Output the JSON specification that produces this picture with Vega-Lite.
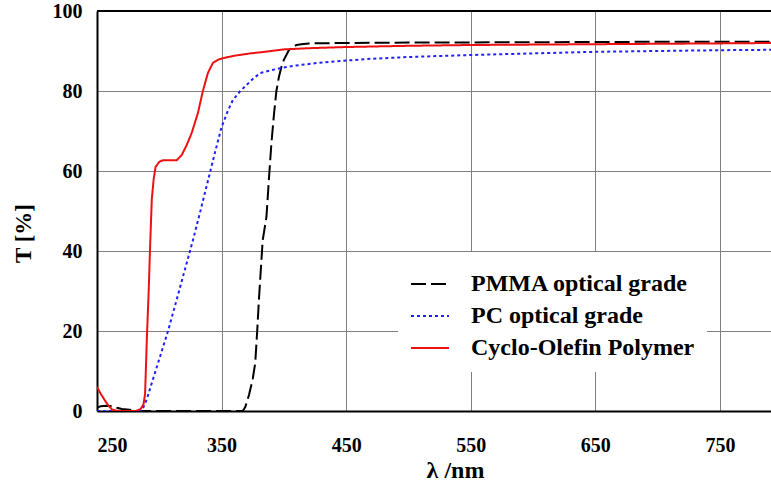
{
  "$schema": "https://vega.github.io/schema/vega-lite/v6.json",
  "autosize": {"type": "none"},
  "padding": {"left": 97, "top": 11, "right": 0, "bottom": 76},
  "width": 674,
  "height": 400,
  "background": "white",
  "config": {
    "view": {"stroke": null},
    "font": "Liberation Serif"
  },
  "data": {
    "values": [
      {"m": "PMMA optical grade", "x": 250, "t": 0.8},
      {"m": "PMMA optical grade", "x": 253, "t": 1.2},
      {"m": "PMMA optical grade", "x": 258, "t": 1.3},
      {"m": "PMMA optical grade", "x": 262, "t": 1.2},
      {"m": "PMMA optical grade", "x": 266, "t": 0.8},
      {"m": "PMMA optical grade", "x": 270, "t": 0.5},
      {"m": "PMMA optical grade", "x": 276, "t": 0.3},
      {"m": "PMMA optical grade", "x": 282, "t": 0},
      {"m": "PMMA optical grade", "x": 300, "t": 0},
      {"m": "PMMA optical grade", "x": 340, "t": 0},
      {"m": "PMMA optical grade", "x": 367, "t": 0},
      {"m": "PMMA optical grade", "x": 369, "t": 1},
      {"m": "PMMA optical grade", "x": 372, "t": 4},
      {"m": "PMMA optical grade", "x": 375, "t": 8},
      {"m": "PMMA optical grade", "x": 377, "t": 12},
      {"m": "PMMA optical grade", "x": 378.5, "t": 19.5},
      {"m": "PMMA optical grade", "x": 380, "t": 28},
      {"m": "PMMA optical grade", "x": 383, "t": 42.7},
      {"m": "PMMA optical grade", "x": 386, "t": 48.5},
      {"m": "PMMA optical grade", "x": 388, "t": 58},
      {"m": "PMMA optical grade", "x": 390, "t": 67},
      {"m": "PMMA optical grade", "x": 392, "t": 74},
      {"m": "PMMA optical grade", "x": 394, "t": 80},
      {"m": "PMMA optical grade", "x": 396, "t": 83.5},
      {"m": "PMMA optical grade", "x": 398, "t": 86},
      {"m": "PMMA optical grade", "x": 400, "t": 87.8},
      {"m": "PMMA optical grade", "x": 402, "t": 89},
      {"m": "PMMA optical grade", "x": 404, "t": 90.2},
      {"m": "PMMA optical grade", "x": 407, "t": 91},
      {"m": "PMMA optical grade", "x": 410, "t": 91.5},
      {"m": "PMMA optical grade", "x": 414, "t": 91.7},
      {"m": "PMMA optical grade", "x": 420, "t": 91.9},
      {"m": "PMMA optical grade", "x": 450, "t": 92},
      {"m": "PMMA optical grade", "x": 500, "t": 92.1},
      {"m": "PMMA optical grade", "x": 600, "t": 92.2},
      {"m": "PMMA optical grade", "x": 700, "t": 92.3},
      {"m": "PMMA optical grade", "x": 791, "t": 92.3},

      {"m": "PC optical grade", "x": 250, "t": 0},
      {"m": "PC optical grade", "x": 270, "t": 0},
      {"m": "PC optical grade", "x": 286, "t": 0},
      {"m": "PC optical grade", "x": 290, "t": 3},
      {"m": "PC optical grade", "x": 295, "t": 8},
      {"m": "PC optical grade", "x": 300, "t": 13},
      {"m": "PC optical grade", "x": 307, "t": 20},
      {"m": "PC optical grade", "x": 315, "t": 29},
      {"m": "PC optical grade", "x": 322, "t": 37},
      {"m": "PC optical grade", "x": 327, "t": 42.7},
      {"m": "PC optical grade", "x": 333, "t": 50},
      {"m": "PC optical grade", "x": 337, "t": 55},
      {"m": "PC optical grade", "x": 341, "t": 60},
      {"m": "PC optical grade", "x": 345, "t": 65},
      {"m": "PC optical grade", "x": 350, "t": 71},
      {"m": "PC optical grade", "x": 355, "t": 75},
      {"m": "PC optical grade", "x": 359, "t": 77.7},
      {"m": "PC optical grade", "x": 365, "t": 80},
      {"m": "PC optical grade", "x": 370, "t": 81.5},
      {"m": "PC optical grade", "x": 375, "t": 83},
      {"m": "PC optical grade", "x": 381, "t": 84.5},
      {"m": "PC optical grade", "x": 390, "t": 85.2},
      {"m": "PC optical grade", "x": 397, "t": 85.7},
      {"m": "PC optical grade", "x": 410, "t": 86.4},
      {"m": "PC optical grade", "x": 427, "t": 87},
      {"m": "PC optical grade", "x": 450, "t": 87.6},
      {"m": "PC optical grade", "x": 467, "t": 88},
      {"m": "PC optical grade", "x": 500, "t": 88.5},
      {"m": "PC optical grade", "x": 550, "t": 89},
      {"m": "PC optical grade", "x": 600, "t": 89.4},
      {"m": "PC optical grade", "x": 650, "t": 89.8},
      {"m": "PC optical grade", "x": 700, "t": 90},
      {"m": "PC optical grade", "x": 750, "t": 90.2},
      {"m": "PC optical grade", "x": 791, "t": 90.3},

      {"m": "Cyclo-Olefin Polymer", "x": 250, "t": 6},
      {"m": "Cyclo-Olefin Polymer", "x": 253, "t": 4.3},
      {"m": "Cyclo-Olefin Polymer", "x": 256, "t": 2.8},
      {"m": "Cyclo-Olefin Polymer", "x": 259, "t": 1.4},
      {"m": "Cyclo-Olefin Polymer", "x": 262, "t": 0.4},
      {"m": "Cyclo-Olefin Polymer", "x": 265, "t": 0.1},
      {"m": "Cyclo-Olefin Polymer", "x": 270, "t": 0},
      {"m": "Cyclo-Olefin Polymer", "x": 281, "t": 0},
      {"m": "Cyclo-Olefin Polymer", "x": 285, "t": 0.5},
      {"m": "Cyclo-Olefin Polymer", "x": 287.3, "t": 1.6},
      {"m": "Cyclo-Olefin Polymer", "x": 288.6, "t": 4.3},
      {"m": "Cyclo-Olefin Polymer", "x": 290, "t": 18},
      {"m": "Cyclo-Olefin Polymer", "x": 291.5, "t": 30},
      {"m": "Cyclo-Olefin Polymer", "x": 292.5, "t": 40},
      {"m": "Cyclo-Olefin Polymer", "x": 294, "t": 53},
      {"m": "Cyclo-Olefin Polymer", "x": 295.5, "t": 58},
      {"m": "Cyclo-Olefin Polymer", "x": 297, "t": 61},
      {"m": "Cyclo-Olefin Polymer", "x": 300, "t": 62.3},
      {"m": "Cyclo-Olefin Polymer", "x": 303, "t": 62.7},
      {"m": "Cyclo-Olefin Polymer", "x": 314, "t": 62.7},
      {"m": "Cyclo-Olefin Polymer", "x": 318, "t": 64},
      {"m": "Cyclo-Olefin Polymer", "x": 322, "t": 66.5},
      {"m": "Cyclo-Olefin Polymer", "x": 326, "t": 69.5},
      {"m": "Cyclo-Olefin Polymer", "x": 331, "t": 74.5},
      {"m": "Cyclo-Olefin Polymer", "x": 335, "t": 80},
      {"m": "Cyclo-Olefin Polymer", "x": 339, "t": 84.5},
      {"m": "Cyclo-Olefin Polymer", "x": 343, "t": 87},
      {"m": "Cyclo-Olefin Polymer", "x": 347, "t": 87.8},
      {"m": "Cyclo-Olefin Polymer", "x": 351, "t": 88.2},
      {"m": "Cyclo-Olefin Polymer", "x": 360, "t": 88.8},
      {"m": "Cyclo-Olefin Polymer", "x": 373, "t": 89.4},
      {"m": "Cyclo-Olefin Polymer", "x": 385, "t": 89.8},
      {"m": "Cyclo-Olefin Polymer", "x": 400, "t": 90.4},
      {"m": "Cyclo-Olefin Polymer", "x": 420, "t": 90.7},
      {"m": "Cyclo-Olefin Polymer", "x": 451, "t": 91},
      {"m": "Cyclo-Olefin Polymer", "x": 500, "t": 91.3},
      {"m": "Cyclo-Olefin Polymer", "x": 550, "t": 91.5},
      {"m": "Cyclo-Olefin Polymer", "x": 650, "t": 91.7},
      {"m": "Cyclo-Olefin Polymer", "x": 750, "t": 91.9},
      {"m": "Cyclo-Olefin Polymer", "x": 791, "t": 92}
    ]
  },
  "layer": [
    {
      "mark": {"type": "line", "strokeWidth": 2, "clip": true},
      "encoding": {
        "x": {
          "field": "x", "type": "quantitative",
          "scale": {"domain": [250, 791], "nice": false, "zero": false},
          "axis": {
            "values": [250, 350, 450, 550, 650, 750],
            "grid": true, "gridColor": "#808080", "gridWidth": 1, "gridOpacity": 1,
            "domainColor": "black", "domainWidth": 2,
            "ticks": false, "labelPadding": 24,
            "labelFont": "Liberation Serif", "labelFontSize": 20, "labelFontWeight": "bold", "labelColor": "black",
            "title": "λ /nm", "titleFont": "Liberation Serif", "titleFontSize": 24, "titleFontWeight": "bold", "titleColor": "black",
            "titleX": 358, "titleY": 66, "titleBaseline": "alphabetic"
          }
        },
        "y": {
          "field": "t", "type": "quantitative",
          "scale": {"domain": [0, 100], "nice": false},
          "axis": {
            "values": [0, 20, 40, 60, 80, 100],
            "grid": true, "gridColor": "#808080", "gridWidth": 1, "gridOpacity": 1,
            "domainColor": "black", "domainWidth": 2,
            "ticks": false, "labelPadding": 15,
            "labelFont": "Liberation Serif", "labelFontSize": 20, "labelFontWeight": "bold", "labelColor": "black",
            "title": "T [%]", "titleFont": "Liberation Serif", "titleFontSize": 23, "titleFontWeight": "bold", "titleColor": "black",
            "titleX": -74, "titleY": 222, "titleBaseline": "middle", "titleAngle": -90
          }
        },
        "color": {
          "field": "m", "type": "nominal",
          "scale": {
            "domain": ["PMMA optical grade", "PC optical grade", "Cyclo-Olefin Polymer"],
            "range": ["#000000", "#1f1fff", "#ee1111"]
          },
          "legend": {
            "title": null, "orient": "none", "legendX": 301, "legendY": 241,
            "fillColor": "white", "padding": 12, "strokeColor": null,
            "symbolType": "stroke", "symbolSize": 1444, "symbolStrokeWidth": 2,
            "labelFont": "Liberation Serif", "labelFontSize": 24, "labelFontWeight": "bold", "labelColor": "black",
            "labelOffset": 21, "labelLimit": 0, "rowPadding": -3
          }
        },
        "strokeDash": {
          "field": "m", "type": "nominal",
          "scale": {
            "domain": ["PMMA optical grade", "PC optical grade", "Cyclo-Olefin Polymer"],
            "range": [[15, 5], [3, 3], [1, 0]]
          },
          "legend": null
        }
      }
    },
    {
      "mark": {"type": "rule", "color": "black", "strokeWidth": 2},
      "encoding": {"y": {"datum": 100}}
    }
  ]
}
